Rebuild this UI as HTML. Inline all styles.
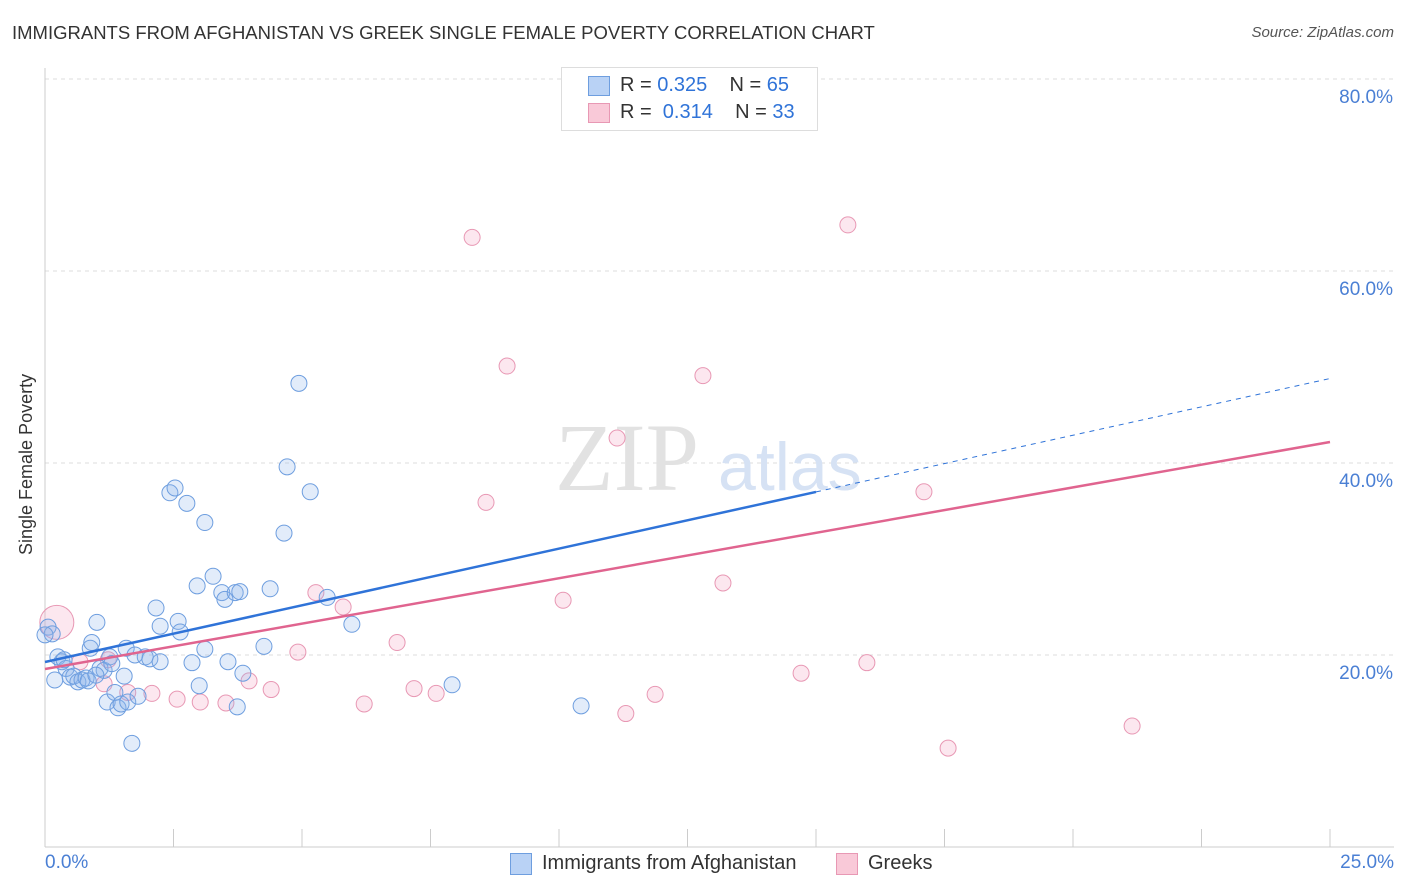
<!DOCTYPE html>
<html><head><meta charset="utf-8">
<style>
body{margin:0;background:#fff;font-family:"Liberation Sans",sans-serif;}
#wrap{position:relative;width:1406px;height:892px;overflow:hidden;}
.t{position:absolute;white-space:nowrap;}
</style></head>
<body>
<div id="wrap">
<div class="t" style="left:12px;top:22px;font-size:18.5px;color:#333;">IMMIGRANTS FROM AFGHANISTAN VS GREEK SINGLE FEMALE POVERTY CORRELATION CHART</div>
<div class="t" style="right:12px;top:24px;font-size:15px;color:#555;font-style:italic;">Source: ZipAtlas.com</div>
<svg id="svg" width="1406" height="892" style="position:absolute;left:0;top:0;"></svg>
</div>
<script>
const blueX=[0.06,0.14,0.19,0.25,0.33,0.41,0.49,0.56,0.64,0.72,0.80,0.88,0.91,1.01,1.07,1.15,1.21,1.26,1.30,1.36,1.42,1.48,1.54,1.58,1.61,1.69,1.75,1.81,1.95,2.04,2.16,2.24,2.24,2.43,2.53,2.59,2.63,2.76,2.86,2.96,3.00,3.11,3.11,3.27,3.44,3.50,3.56,3.70,3.74,3.79,3.85,4.26,4.38,4.65,4.71,4.94,5.16,5.49,5.97,7.92,10.43,0.84,0.37,0.0,0.99];
const blueY=[22.9,22.2,17.4,19.8,19.3,18.6,17.7,17.8,17.2,17.4,17.6,20.7,21.3,23.4,18.6,18.4,15.1,19.8,19.1,16.1,14.5,14.9,17.8,20.7,15.1,10.8,20.0,15.7,19.8,19.6,24.9,23.0,19.3,36.9,37.4,23.5,22.4,35.8,19.2,27.2,16.8,33.8,20.6,28.2,26.5,25.8,19.3,26.5,14.6,26.6,18.1,20.9,26.9,32.7,39.6,48.3,37.0,26.0,23.2,16.9,14.7,17.3,19.5,22.1,17.9];
const pinkX=[0.23,0.68,1.15,1.61,2.08,2.57,3.02,3.52,3.97,4.40,4.92,5.27,5.80,6.21,6.85,7.18,7.61,8.31,8.58,8.99,10.08,11.13,11.30,11.87,12.80,13.19,14.71,15.62,15.99,17.10,17.57,21.15,1.23];
const pinkY=[23.4,19.3,17.0,16.1,16.0,15.4,15.1,15.0,17.3,16.4,20.3,26.5,25.0,14.9,21.3,16.5,16.0,63.5,35.9,50.1,25.7,42.6,13.9,15.9,49.1,27.5,18.1,64.8,19.2,37.0,10.3,12.6,19.5];
const blueLine=[19.27,48.8];
const pinkLine=[18.54,42.19];
const yTicks=[20,40,60,80];
const xTicks=[0,2.5,5,7.5,10,12.5,15,17.5,20,22.5,25];

const X=v=>45+v*51.4, Y=v=>847-v*9.6;
const svg=document.getElementById('svg');
const NS='http://www.w3.org/2000/svg';
function mk(tag,a,p){const e=document.createElementNS(NS,tag);for(const k in a)e.setAttribute(k,a[k]);(p||svg).appendChild(e);return e;}
yTicks.forEach(t=>{
 const l=mk('line',{x1:45,x2:1394,y1:Y(t),y2:Y(t),stroke:'#ddd','stroke-dasharray':'4,4'});
 
 
 const tx=mk('text',{x:1393,y:Y(t)+24,'text-anchor':'end','font-size':19,fill:'#4a7fd4','font-family':'Liberation Sans'});
 tx.textContent=t.toFixed(1)+'%';
 
 
});
mk('line',{x1:45,x2:45,y1:68,y2:847,stroke:'#ccc'});
mk('line',{x1:45,x2:1394,y1:847,y2:847,stroke:'#ccc'});
xTicks.forEach(t=>{const l=mk('line',{x1:X(t),x2:X(t),y1:829,y2:847,stroke:'#ccc'});
 
 });
const wm=mk('text',{x:555,y:490,'font-size':96,fill:'#e2e2e2','font-family':'Liberation Serif'});wm.textContent='ZIP';


const wm2=mk('text',{x:718,y:490,'font-size':68,fill:'#d6e2f4','font-family':'Liberation Sans'});wm2.textContent='atlas';


pinkX.forEach((x,i)=>{const c=mk('circle',{cx:X(x),cy:Y(pinkY[i]),r:i==0?17:8,fill:'rgba(244,160,190,0.25)',stroke:'#e898b4','stroke-width':1});
 
 });
blueX.forEach((x,i)=>{const c=mk('circle',{cx:X(x),cy:Y(blueY[i]),r:8,fill:'rgba(140,180,235,0.25)',stroke:'#6e9edf','stroke-width':1});
 
 });
const bs=(blueLine[1]-blueLine[0])/25, bAt=v=>blueLine[0]+bs*v;
let l1=mk('line',{x1:X(0),y1:Y(bAt(0)),x2:X(15),y2:Y(bAt(15)),stroke:'#2f73d8','stroke-width':2.5});


let l2=mk('line',{x1:X(15),y1:Y(bAt(15)),x2:X(25),y2:Y(bAt(25)),stroke:'#2f73d8','stroke-width':1,'stroke-dasharray':'5,5'});


let l3=mk('line',{x1:X(0),y1:Y(pinkLine[0]),x2:X(25),y2:Y(pinkLine[1]),stroke:'#e0648f','stroke-width':2.5});


</script>
<div class="t" style="left:16px;top:555px;transform:rotate(-90deg);transform-origin:0 0;font-size:18px;color:#333;">Single Female Poverty</div>
<div class="t" style="left:45px;top:852px;font-size:19px;color:#4a7fd4;">0.0%</div>
<div class="t" style="right:12px;top:852px;font-size:19px;color:#4a7fd4;">25.0%</div>
<div style="position:absolute;left:561px;top:67px;width:255px;height:62px;border:1px solid #ddd;background:#fff;font-size:20px;color:#333;">
 <div class="t" style="left:26px;top:8px;width:20px;height:18px;background:#b9d2f5;border:1px solid #6e9edf;"></div>
 <div class="t" style="left:58px;top:6px;">R = <span style="color:#2f73d8">0.325</span>&nbsp;&nbsp;&nbsp; N = <span style="color:#2f73d8">65</span></div>
 <div class="t" style="left:26px;top:35px;width:20px;height:18px;background:#f9c9d8;border:1px solid #e898b4;"></div>
 <div class="t" style="left:58px;top:33px;">R = &nbsp;<span style="color:#2f73d8">0.314</span>&nbsp;&nbsp;&nbsp; N = <span style="color:#2f73d8">33</span></div>
</div>
<div class="t" style="left:510px;top:853px;width:20px;height:20px;background:#b9d2f5;border:1px solid #6e9edf;"></div>
<div class="t" style="left:542px;top:852px;font-size:20px;color:#333;">Immigrants from Afghanistan</div>
<div class="t" style="left:836px;top:853px;width:20px;height:20px;background:#f9c9d8;border:1px solid #e898b4;"></div>
<div class="t" style="left:868px;top:852px;font-size:20px;color:#333;">Greeks</div>
</body></html>
